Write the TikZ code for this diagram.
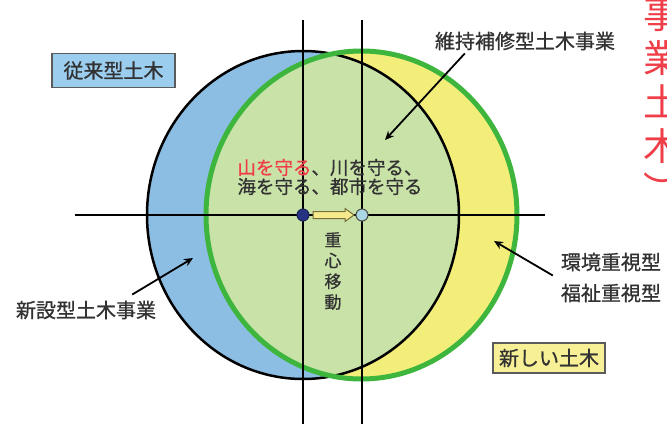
\documentclass[tikz,border=0pt]{standalone}
\usepackage{fontspec}
\setmainfont{Noto Sans CJK JP}
\newfontfamily\medfont[FakeBold=0.8]{Noto Sans CJK JP}
\usetikzlibrary{arrows.meta}
\definecolor{bluefill}{RGB}{140,190,228}
\definecolor{yellowfill}{RGB}{243,238,122}
\definecolor{overlap}{RGB}{200,226,168}
\definecolor{greenline}{RGB}{62,182,62}
\definecolor{txt}{RGB}{50,50,50}
\definecolor{redtxt}{RGB}{240,62,72}
\definecolor{boxblue}{RGB}{155,205,238}
\definecolor{boxyellow}{RGB}{248,240,150}
\definecolor{navy}{RGB}{40,50,130}
\definecolor{paleblue}{RGB}{170,215,225}
\definecolor{arrowyellow}{RGB}{245,235,140}
\definecolor{arrowedge}{RGB}{120,110,60}
\begin{document}
\begin{tikzpicture}[x=1pt,y=-1pt,
  lbl/.style={text=txt, font=\medfont\fontsize{20}{22}\selectfont, inner sep=0pt},
  tagbox/.style={lbl, draw=txt!80, line width=1.2pt, inner xsep=6pt},
  conn/.style={draw=black, line width=1.8pt, -{Stealth[length=9pt,width=8pt]}},
  axis/.style={draw=black, line width=2.5pt},
  dot/.style={circle, minimum size=12pt, inner sep=0pt, line width=1pt}]
\useasboundingbox (0,0) rectangle (667,424);
\fill[white] (0,0) rectangle (667,424);
% regions
\fill[bluefill] (303,215) ellipse [x radius=156pt, y radius=164pt];
\fill[yellowfill] (361.5,215) ellipse [x radius=155.5pt, y radius=164pt];
\begin{scope}
  \clip (303,215) ellipse [x radius=156pt, y radius=164pt];
  \fill[overlap] (361.5,215) ellipse [x radius=155.5pt, y radius=164pt];
\end{scope}
\draw[black, line width=2.5pt] (303,215) ellipse [x radius=156pt, y radius=164pt];
\draw[greenline, line width=5pt] (361.5,215) ellipse [x radius=155.5pt, y radius=164pt];
% axes
\coordinate (hL) at (75,215);
\coordinate (hR) at (545,215);
\coordinate (vAt) at (303,20);
\coordinate (vAb) at (303,424);
\coordinate (vBt) at (362,20);
\coordinate (vBb) at (362,424);
\draw[axis] (hL) -- (hR);
\draw[axis] (vAt) -- (vAb);
\draw[axis] (vBt) -- (vBb);
% centres of gravity
\node[dot, fill=navy, draw=navy!70!black] (cOld) at (303,215) {};
\node[dot, fill=paleblue, draw=black!70] (cNew) at (362,215) {};
\fill[arrowyellow, draw=arrowedge, line width=1pt]
  (313,211.5) -- (345,211.5) -- (345,208.5) -- (354,215) -- (345,221.5) -- (345,218.5) -- (313,218.5) -- cycle;
% texts
\node[tagbox, fill=boxblue, minimum width=123pt, minimum height=34pt] (jurai) at (113.5,70.5) {従来型土木};
\node[tagbox, fill=boxyellow, minimum width=112pt, minimum height=30pt] (atarashii) at (549,358) {新しい土木};
\node[lbl] (ijishuho) at (525,41) {維持補修型土木事業};
\node[lbl, font=\medfont\fontsize{18.5}{19}\selectfont, align=left] (mamoru) at (330,177)
  {\textcolor{redtxt}{山を守る}、川を守る、\\海を守る、都市を守る};
\node[lbl, font=\medfont\fontsize{17}{20.7}\selectfont, align=center] (juushin) at (333,271)
  {重\\心\\移\\動};
\node[lbl] (shinsetsu) at (86,310) {新設型土木事業};
\node[lbl, align=left, font=\medfont\fontsize{20}{31}\selectfont] (kankyo) at (611,277.5)
  {環境重視型\\福祉重視型};
\node[lbl, text=redtxt, font=\normalfont\fontsize{38}{44}\selectfont, align=center] (title) at (662,101)
  {事\\業\\土\\木\\︶};
% connectors
\coordinate (pMaint) at (385,140);
\coordinate (pNew) at (193,258);
\coordinate (pEnv) at (494,241);
\draw[conn] ([xshift=30pt,yshift=-3pt]ijishuho.south west) -- (pMaint);
\draw[conn] ([xshift=-24pt,yshift=6pt]shinsetsu.north east) -- (pNew);
\draw[conn] ([xshift=-8pt,yshift=2pt]kankyo.west) -- (pEnv);
\end{tikzpicture}
\end{document}
